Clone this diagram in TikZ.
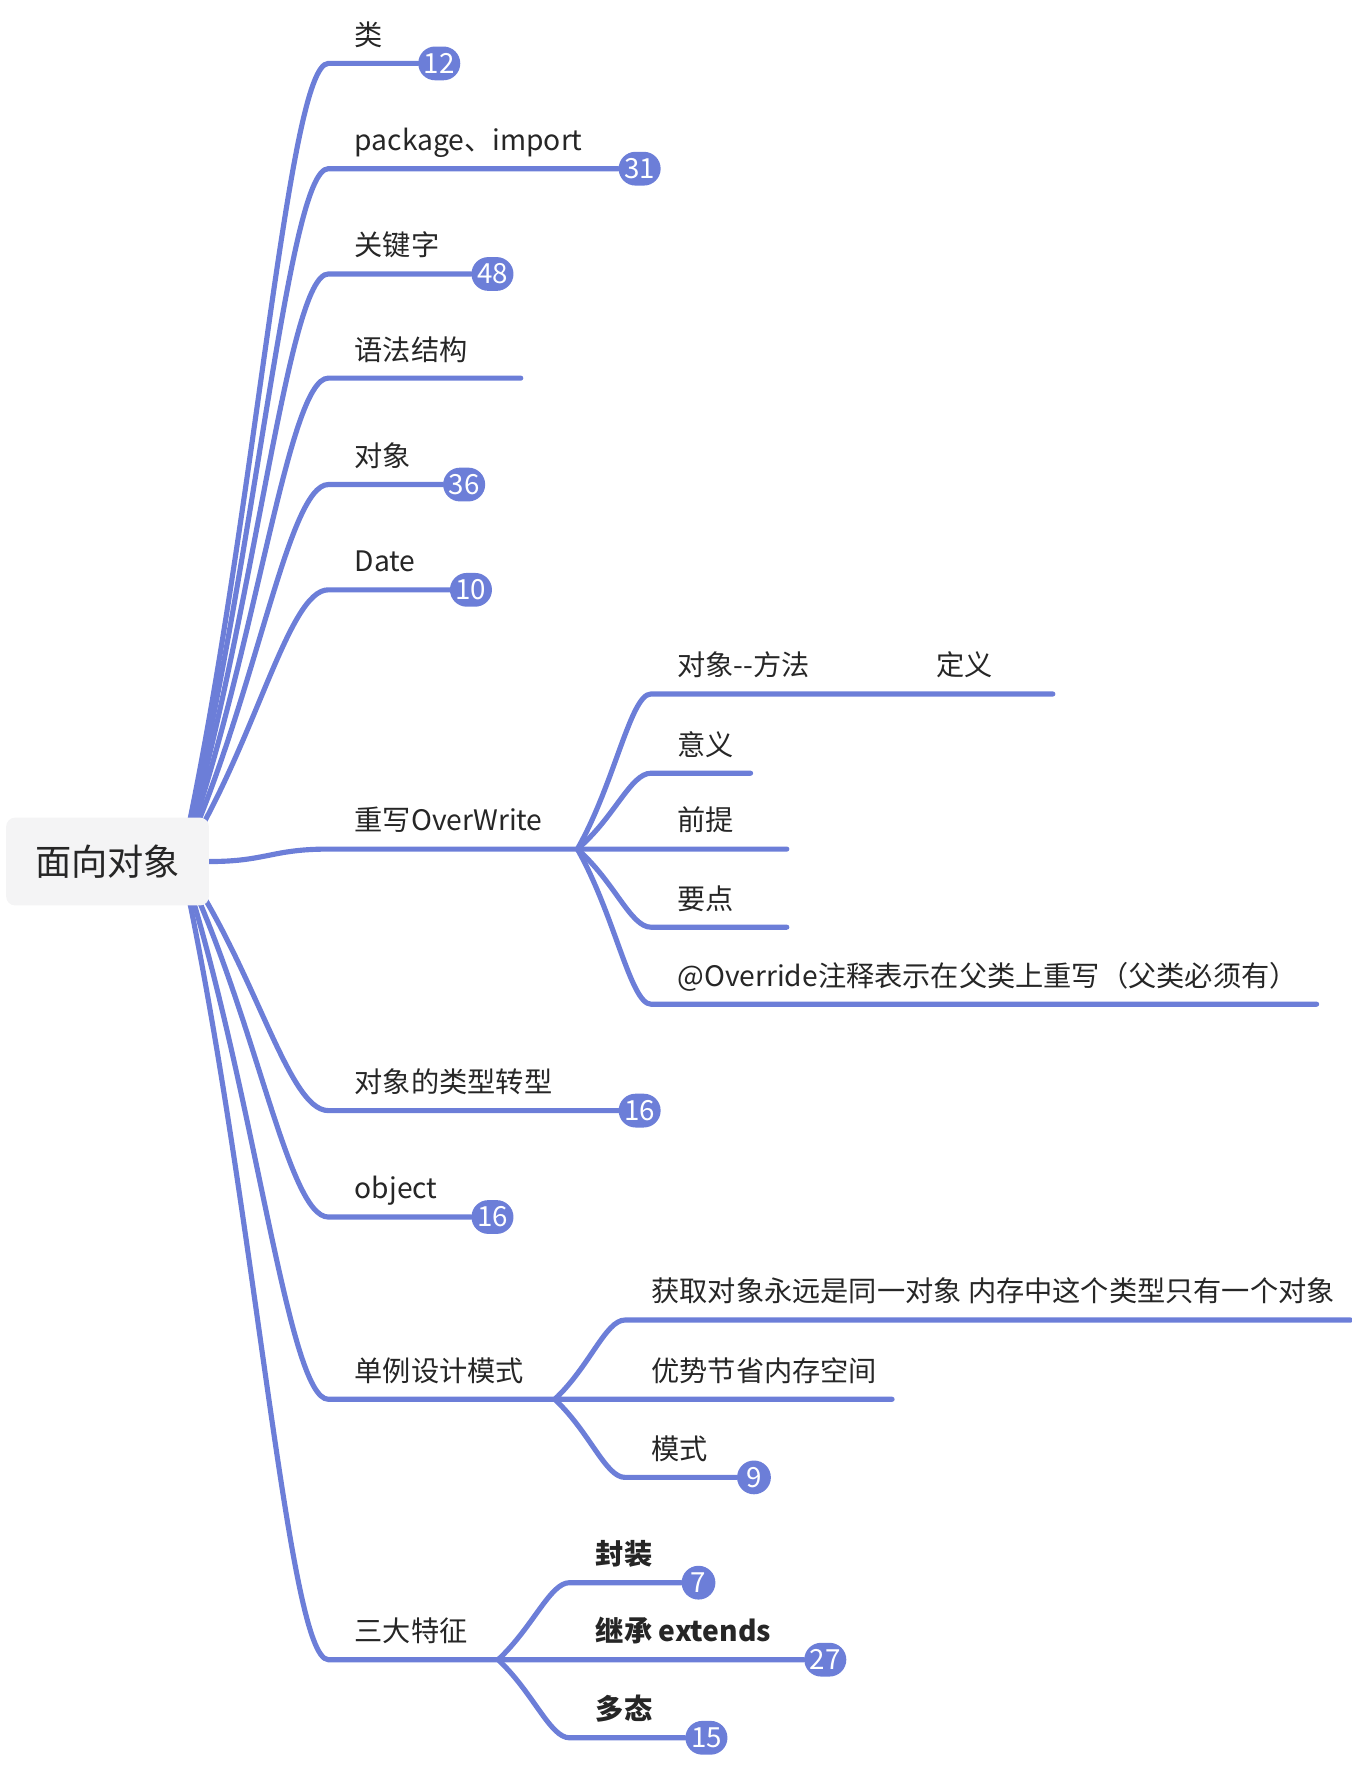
\documentclass[tikz,border=0pt]{standalone}
\usepackage{fontspec}
\setmainfont{Noto Sans CJK SC}
\usetikzlibrary{backgrounds}
\definecolor{branchblue}{HTML}{6C7ED8}
\definecolor{rootgray}{HTML}{F4F4F5}

\begin{document}
\begin{tikzpicture}[x=0.0201cm, y=-0.0201cm,
    branch/.style={draw=branchblue, line width=2.6pt, line cap=round},
    lbl/.style={anchor=base west, inner sep=0pt, text=black!85, font=\fontsize{14.25pt}{16pt}\selectfont},
    lblbold/.style={lbl, font=\fontsize{14.25pt}{16pt}\selectfont\bfseries},
    count/.style={fill=branchblue, text=white, rounded corners=0.3cm, minimum height=0.6cm, minimum width=0.6cm, inner xsep=0.1cm, inner ysep=0pt, font=\fontsize{14pt}{15pt}\selectfont}]
        \useasboundingbox (0,0) rectangle (1194,1567);
        \node[fill=rootgray, rounded corners=0.16cm, minimum width=3.6cm, minimum height=1.56cm, text=black!85, font=\fontsize{18.3pt}{20pt}\selectfont] (root) at (95,761) {面向对象};
        \coordinate (hub) at (160,761);
        \coordinate (K1) at (290,56);
        \coordinate (K2) at (290,149);
        \coordinate (K3) at (290,242);
        \coordinate (K4) at (290,334);
        \coordinate (K5) at (290,428);
        \coordinate (K6) at (290,521);
        \coordinate (K7) at (290,750);
        \coordinate (K8) at (290,981);
        \coordinate (K9) at (290,1075);
        \coordinate (K10) at (290,1236);
        \coordinate (K11) at (290,1466);
        \node[lbl] (L1) at (313,40) {类};
        \node[lbl] (L2) at (313,133) {package、import};
        \node[lbl] (L3) at (313,226) {关键字};
        \node[lbl] (L4) at (313,318) {语法结构};
        \node[lbl] (L5) at (313,412) {对象};
        \node[lbl] (L6) at (313,505) {Date};
        \node[lbl] (L7) at (313,734) {重写OverWrite};
        \node[lbl] (L8) at (313,965) {对象的类型转型};
        \node[lbl] (L9) at (313,1059) {object};
        \node[lbl] (L10) at (313,1220) {单例设计模式};
        \node[lbl] (L11) at (313,1450) {三大特征};
        \node[count] (N1) at (388,56) {12};
        \node[count] (N2) at (565,149) {31};
        \node[count] (N3) at (435,242) {48};
        \coordinate (E4) at (460,334);
        \node[count] (N5) at (410,428) {36};
        \node[count] (N6) at (416,521) {10};
        \coordinate (J7) at (510,750);
        \node[count] (N8) at (565,981) {16};
        \node[count] (N9) at (435,1075) {16};
        \coordinate (J10) at (490,1236);
        \coordinate (J11) at (440,1466);
        \coordinate (K71) at (575,613);
        \coordinate (E71) at (930,613);
        \coordinate (K72) at (575,683);
        \coordinate (E72) at (663,683);
        \coordinate (E73) at (695,750);
        \coordinate (K74) at (575,819);
        \coordinate (E74) at (695,819);
        \coordinate (K75) at (575,887);
        \coordinate (E75) at (1163,887);
        \node[lbl] (L71) at (598,597) {对象-{}-方法\hspace*{2.25cm}定义};
        \node[lbl] (L72) at (598,667) {意义};
        \node[lbl] (L73) at (598,734) {前提};
        \node[lbl] (L74) at (598,803) {要点};
        \node[lbl] (L75) at (598,871) {@Override注释表示在父类上重写（父类必须有）};
        \coordinate (K101) at (552,1166);
        \coordinate (E101) at (1193,1166);
        \coordinate (E102) at (788,1236);
        \coordinate (K103) at (552,1305);
        \node[count] (N103) at (666,1305) {9};
        \node[lbl] (L101) at (575,1150) {获取对象永远是同一对象 内存中这个类型只有一个对象};
        \node[lbl] (L102) at (575,1220) {优势节省内存空间};
        \node[lbl] (L103) at (575,1289) {模式};
        \coordinate (K111) at (503,1398);
        \coordinate (K113) at (503,1535);
        \node[count] (N111) at (617,1398) {7};
        \node[count] (N112) at (729,1466) {27};
        \node[count] (N113) at (624,1535) {15};
        \node[lblbold] (L111) at (526,1382) {封装};
        \node[lblbold] (L112) at (526,1450) {继承 extends};
        \node[lblbold] (L113) at (526,1519) {多态};
        \begin{scope}[on background layer]
        \draw[branch] (hub) .. controls +(65,-296) and +(-36,0) .. (K1) -- (N1);
        \draw[branch] (hub) .. controls +(65,-257) and +(-36,0) .. (K2) -- (N2);
        \draw[branch] (hub) .. controls +(65,-218) and +(-36,0) .. (K3) -- (N3);
        \draw[branch] (hub) .. controls +(65,-179) and +(-36,0) .. (K4) -- (E4);
        \draw[branch] (hub) .. controls +(65,-140) and +(-36,0) .. (K5) -- (N5);
        \draw[branch] (hub) .. controls +(65,-101) and +(-36,0) .. (K6) -- (N6);
        \draw[branch] (root.east) .. controls +(50,0) and +(-50,0) .. (K7) -- (J7) -- (E73);
        \draw[branch] (hub) .. controls +(65,92) and +(-36,0) .. (K8) -- (N8);
        \draw[branch] (hub) .. controls +(65,132) and +(-36,0) .. (K9) -- (N9);
        \draw[branch] (hub) .. controls +(65,200) and +(-36,0) .. (K10) -- (J10) -- (E102);
        \draw[branch] (hub) .. controls +(65,296) and +(-36,0) .. (K11) -- (J11) -- (N112);
        \draw[branch] (J7) .. controls +(33,-58) and +(-18,0) .. (K71) -- (E71);
        \draw[branch] (J7) .. controls +(33,-28) and +(-18,0) .. (K72) -- (E72);
        \draw[branch] (J7) .. controls +(33,29) and +(-18,0) .. (K74) -- (E74);
        \draw[branch] (J7) .. controls +(33,58) and +(-18,0) .. (K75) -- (E75);
        \draw[branch] (J10) .. controls +(31,-29) and +(-17,0) .. (K101) -- (E101);
        \draw[branch] (J10) .. controls +(31,29) and +(-17,0) .. (K103) -- (N103);
        \draw[branch] (J11) .. controls +(31,-29) and +(-17,0) .. (K111) -- (N111);
        \draw[branch] (J11) .. controls +(31,29) and +(-17,0) .. (K113) -- (N113);
        \end{scope}
      \end{tikzpicture}
\end{document}
